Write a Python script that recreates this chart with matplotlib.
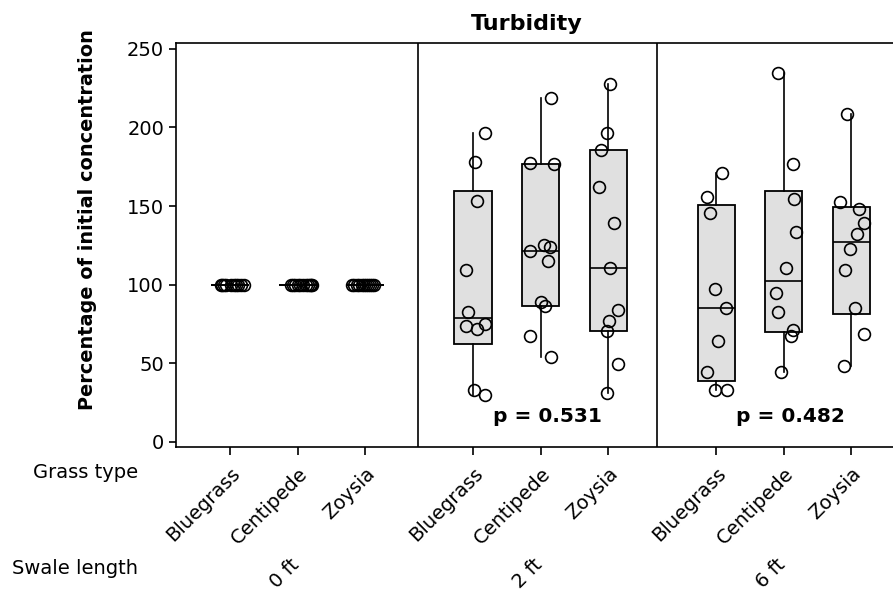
import numpy as np
import matplotlib
matplotlib.use("Agg")
import matplotlib.pyplot as plt
from matplotlib.transforms import blended_transform_factory

plt.rcParams["font.family"] = "DejaVu Sans"

swale_lengths = ["0 ft", "2 ft", "6 ft"]
grass_types = ["Bluegrass", "Centipede", "Zoysia"]
p_values = [None, "p = 0.531", "p = 0.482"]

# percentage of initial turbidity, per swale length / grass type
bluegrass_0 = [100, 100, 100, 100, 100, 100, 100, 100, 100, 100]
centipede_0 = [100, 100, 100, 100, 100, 100, 100, 100, 100, 100, 100]
zoysia_0 = [100, 100, 100, 100, 100, 100, 100, 100, 100, 100, 100]
bluegrass_2 = [196.6, 177.7, 153.3, 109.5, 82.9, 74.0, 71.6, 75.3, 33.2, 29.8]
centipede_2 = [218.5, 177.5, 176.7, 121.6, 125.0, 123.7, 114.8, 88.8, 86.3, 67.6, 54.0]
zoysia_2 = [227.5, 196.6, 185.6, 162.4, 139.2, 110.3, 84.0, 77.2, 70.6, 49.7, 31.1]
bluegrass_6 = [171.1, 156.0, 145.6, 97.4, 85.3, 64.0, 44.4, 33.2, 33.2]
centipede_6 = [234.9, 176.5, 154.3, 133.5, 110.3, 94.6, 82.7, 71.2, 67.2, 44.2]
zoysia_6 = [208.5, 152.6, 148.0, 139.2, 132.4, 122.4, 109.3, 85.3, 68.4, 48.5]

# horizontal jitter of each point
jitter_bluegrass_0 = [-0.14, -0.12, -0.09, -0.06, 0.02, 0.06, 0.09, 0.12, 0.16, 0.21]
jitter_centipede_0 = [-0.10, -0.07, -0.04, 0.0, 0.04, 0.08, 0.12, 0.15, 0.18, 0.20, 0.22]
jitter_zoysia_0 = [-0.19, -0.16, -0.12, -0.09, -0.05, -0.02, 0.02, 0.05, 0.08, 0.11, 0.14]
jitter_bluegrass_2 = [0.17, 0.03, 0.06, -0.11, -0.07, -0.11, 0.06, 0.17, 0.01, 0.17]
jitter_centipede_2 = [0.16, -0.16, 0.20, -0.16, 0.05, 0.14, 0.11, 0.01, 0.07, -0.16, 0.16]
jitter_zoysia_2 = [0.03, -0.01, -0.10, -0.14, 0.09, 0.03, 0.14, 0.01, -0.01, 0.14, -0.01]
jitter_bluegrass_6 = [0.09, -0.14, -0.09, -0.01, 0.14, 0.03, -0.14, -0.01, 0.16]
jitter_centipede_6 = [-0.09, 0.14, 0.16, 0.19, 0.03, -0.12, -0.09, 0.14, 0.11, -0.04]
jitter_zoysia_6 = [-0.06, -0.17, 0.11, 0.19, 0.09, -0.02, -0.09, 0.06, 0.19, -0.11]

groups = [
    [bluegrass_0, centipede_0, zoysia_0],
    [bluegrass_2, centipede_2, zoysia_2],
    [bluegrass_6, centipede_6, zoysia_6],
]
jitters = [
    [jitter_bluegrass_0, jitter_centipede_0, jitter_zoysia_0],
    [jitter_bluegrass_2, jitter_centipede_2, jitter_zoysia_2],
    [jitter_bluegrass_6, jitter_centipede_6, jitter_zoysia_6],
]


def box_stats(values):
    v = np.asarray(values, dtype=float)
    # minitab style quartiles
    q1, med, q3 = np.percentile(v, [25, 50, 75], method="weibull")
    iqr = q3 - q1
    lo = v[v >= q1 - 1.5 * iqr].min()
    hi = v[v <= q3 + 1.5 * iqr].max()
    return {"q1": q1, "med": med, "q3": q3, "whislo": lo, "whishi": hi, "fliers": []}


fig = plt.figure(figsize=(8.93, 5.95), dpi=100)
ax = fig.add_axes([176 / 893, 1 - 447 / 595, (893 - 176) / 893, (447 - 42.5) / 595])

group_gap = 3.6
positions, stats, tick_labels = [], [], []
for g, grp in enumerate(groups):
    for t, vals in enumerate(grp):
        positions.append(1 + t + g * group_gap)
        stats.append(box_stats(vals))
        tick_labels.append(grass_types[t])

ax.bxp(stats, positions=positions, widths=0.55, patch_artist=True, showcaps=False,
       showfliers=False,
       boxprops=dict(facecolor="#e0e0e0", edgecolor="black", linewidth=1.3),
       medianprops=dict(color="black", linewidth=1.2),
       whiskerprops=dict(color="black", linewidth=1.2))

i = 0
for g, grp in enumerate(groups):
    for t, vals in enumerate(grp):
        xs = positions[i] + np.asarray(jitters[g][t])
        ax.plot(xs, vals, ls="none", marker="o", markersize=8.5, mfc="none",
                mec="black", mew=1.2, zorder=3)
        i += 1

# panel separators
for xs in (3.78, 7.33):
    ax.axvline(xs, color="black", lw=1.2)

ax.set_xlim(0.2, 10.82)
ax.set_ylim(-3.2, 254)
ax.set_yticks([0, 50, 100, 150, 200, 250])
ax.set_xticks(positions)
ax.set_xticklabels(tick_labels, rotation=45, ha="right", rotation_mode="anchor", fontsize=14)
ax.tick_params(axis="y", labelsize=14, length=5, width=1.2)
ax.tick_params(axis="x", length=6, width=1.2, pad=6)
ax.spines["right"].set_visible(False)
for s in ("left", "bottom", "top"):
    ax.spines[s].set_linewidth(1.2)

# p-values
for g, p in enumerate(p_values):
    if p:
        ax.text(2 + g * group_gap + 0.1, 13, p, ha="center", va="baseline",
                fontsize=14.5, fontweight="bold")

# swale length labels
trans = blended_transform_factory(ax.transData, ax.transAxes)
for g, s in enumerate(swale_lengths):
    ax.text(2 + g * group_gap - 0.12, -0.267, s, transform=trans, rotation=45,
            ha="right", va="top", rotation_mode="anchor", fontsize=14)

fig.text(138 / 893, 1 - 473 / 595, "Grass type", ha="right", va="center", fontsize=14)
fig.text(138 / 893, 1 - 568 / 595, "Swale length", ha="right", va="center", fontsize=14)
fig.text(88 / 893, 1 - 220 / 595, "Percentage of initial concentration", rotation=90,
         ha="center", va="center", fontsize=13.9, fontweight="bold")
fig.text(527 / 893, 1 - 24 / 595, "Turbidity", ha="center", va="center",
         fontsize=16, fontweight="bold")

fig.savefig("out.png", dpi=100)
